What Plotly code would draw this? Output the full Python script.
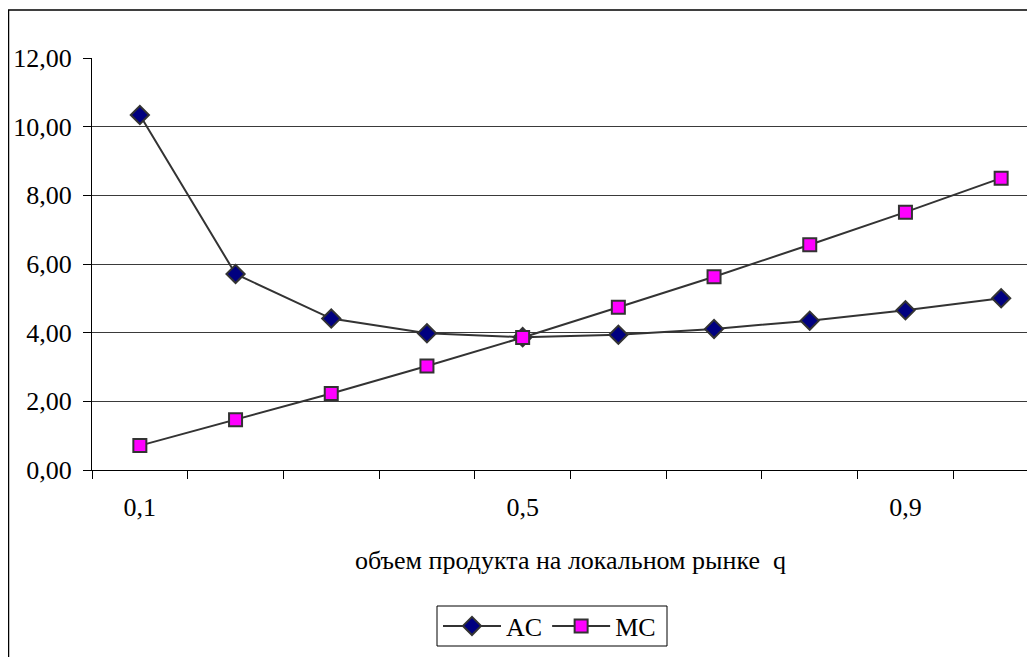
import plotly.graph_objects as go

q_labels = ["0,1", "0,2", "0,3", "0,4", "0,5", "0,6", "0,7", "0,8", "0,9", "1,0"]
shown_labels = ["0,1", "", "", "", "0,5", "", "", "", "0,9", ""]
ac_values = [10.34, 5.71, 4.41, 3.98, 3.87, 3.94, 4.11, 4.35, 4.65, 5.00]
mc_values = [0.71, 1.46, 2.23, 3.03, 3.86, 4.74, 5.63, 6.56, 7.51, 8.50]
x_title = "объем продукта на локальном рынке  q"

# the page body adds an 8px offset
OFF = 8
W, H = 1035 - OFF, 657 - OFF
L, T, B_px = 92 - OFF, 58 - OFF, 470 - OFF
plot_w = W - L
plot_h = B_px - T
cat_w = 95.7

def px_x(page_x):
    return (page_x - OFF - L) / plot_w

def px_y(page_y):
    return (B_px - (page_y - OFF)) / plot_h

font = dict(family="Liberation Serif", size=26, color="black")

fig = go.Figure()
fig.add_trace(go.Scatter(
    x=q_labels, y=ac_values, name="AC", mode="lines+markers",
    line=dict(color="#333333", width=2),
    marker=dict(symbol="diamond", size=14, color="#000080",
                line=dict(color="#333333", width=2)),
))
fig.add_trace(go.Scatter(
    x=q_labels, y=mc_values, name="MC", mode="lines+markers",
    line=dict(color="#333333", width=2),
    marker=dict(symbol="square", size=13, color="#FF00FF",
                line=dict(color="#333333", width=2)),
))

x_hi = -0.5 + plot_w / cat_w

fig.update_layout(
    width=W, height=H,
    margin=dict(l=L, r=0, t=T, b=H - B_px, pad=0),
    paper_bgcolor="white", plot_bgcolor="white",
    font=font,
    separators=", ",
    showlegend=True,
    legend=dict(
        orientation="h",
        x=px_x(438), y=px_y(626),
        xanchor="left", yanchor="middle",
        borderwidth=0,
        bgcolor="rgba(0,0,0,0)",
        font=font,
        itemwidth=58,
        tracegroupgap=0,
    ),
    xaxis=dict(
        type="category",
        range=[-0.5, x_hi],
        tickmode="array", tickvals=q_labels, ticktext=shown_labels,
        tickson="boundaries",
        ticks="outside", ticklen=8, tickcolor="black", tickwidth=1,
        showline=True, linecolor="black", linewidth=1,
        showgrid=False, zeroline=False,
        tickfont=font,
        ticklabelstandoff=14,
    ),
    yaxis=dict(
        range=[0, 12], dtick=2, tick0=0,
        tickformat=".2f",
        ticks="outside", ticklen=8, tickcolor="black", tickwidth=1,
        showline=True, linecolor="black", linewidth=1,
        showgrid=True, gridcolor="#3a3a3a", gridwidth=1,
        zeroline=False,
        tickfont=font,
        ticklabelstandoff=6,
    ),
)

fig.add_annotation(
    x=4.5, y=px_y(560), xref="x", yref="paper",
    text=x_title, showarrow=False, font=font,
    xanchor="center", yanchor="middle",
)

# legend frame
fig.add_shape(
    type="rect", xref="paper", yref="paper",
    x0=px_x(437), x1=px_x(667), y0=px_y(646), y1=px_y(606),
    line=dict(color="black", width=1), fillcolor="rgba(0,0,0,0)",
)

# outer chart border
fig.add_shape(
    type="rect", xref="paper", yref="paper",
    x0=(0.5 - L) / plot_w, x1=1.05,
    y0=-(700 - B_px) / plot_h, y1=1 + (T - 2) / plot_h,
    line=dict(color="black", width=1.5), fillcolor="rgba(0,0,0,0)",
    layer="below",
)

fig.write_html("out.html")
